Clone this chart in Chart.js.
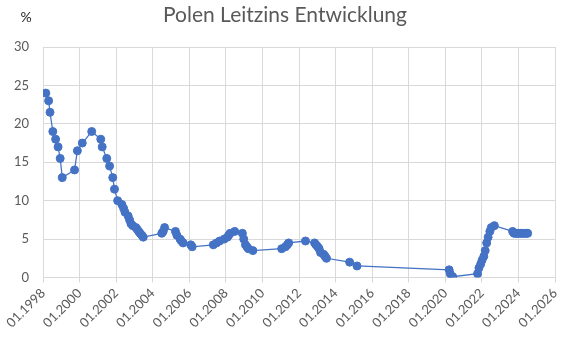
<!DOCTYPE html>
<html>
<head>
<meta charset="utf-8">
<script src="https://cdn.jsdelivr.net/npm/chart.js@4/dist/chart.umd.min.js"></script>
<style>
  html, body { margin: 0; padding: 0; background: #ffffff; }
  canvas { display: block; }
</style>
</head>
<body>
<canvas id="chart" width="568" height="338"></canvas>
<script>
// Chart text
const chartTitle = 'Polen Leitzins Entwicklung';
const unitLabel = '%';

// NBP reference rate: dates of decisions and the rate in percent
const changeDates = [
  '1998-02-26', '1998-04-23', '1998-05-21', '1998-07-16', '1998-09-10', '1998-10-29', '1998-12-10',
  '1999-01-21', '1999-09-23', '1999-11-18',
  '2000-02-24', '2000-08-31',
  '2001-02-28', '2001-03-29', '2001-06-28', '2001-08-23', '2001-10-25', '2001-11-29',
  '2002-01-31', '2002-04-25', '2002-05-30', '2002-06-27', '2002-08-29', '2002-09-26', '2002-10-24', '2002-11-28',
  '2003-01-30', '2003-02-27', '2003-03-27', '2003-04-24', '2003-05-29', '2003-06-26',
  '2004-06-30', '2004-07-29', '2004-08-26',
  '2005-03-31', '2005-04-28', '2005-06-30', '2005-07-28', '2005-08-31',
  '2006-01-31', '2006-02-28',
  '2007-04-26', '2007-06-28', '2007-08-30', '2007-11-29',
  '2008-01-31', '2008-02-28', '2008-03-27', '2008-06-26', '2008-11-27', '2008-12-24',
  '2009-01-28', '2009-02-26', '2009-03-26', '2009-06-25',
  '2011-01-20', '2011-04-06', '2011-05-12', '2011-06-09',
  '2012-05-10', '2012-11-08', '2012-12-06',
  '2013-01-10', '2013-02-07', '2013-03-07', '2013-05-09', '2013-06-06', '2013-07-04',
  '2014-10-09', '2015-03-05',
  '2020-03-18', '2020-04-09', '2020-05-29',
  '2021-10-07', '2021-11-04', '2021-12-09',
  '2022-01-05', '2022-02-09', '2022-03-09', '2022-04-07', '2022-05-06', '2022-06-09', '2022-07-08', '2022-09-08',
  '2023-09-07', '2023-10-05', '2023-11-09', '2023-12-07',
  '2024-01-04', '2024-02-08', '2024-03-07', '2024-04-04', '2024-05-09', '2024-06-05', '2024-07-04'
];
const rates = [
  24.0, 23.0, 21.5, 19.0, 18.0, 17.0, 15.5,
  13.0, 14.0, 16.5,
  17.5, 19.0,
  18.0, 17.0, 15.5, 14.5, 13.0, 11.5,
  10.0, 9.5, 9.0, 8.5, 8.0, 7.5, 7.0, 6.75,
  6.5, 6.25, 6.0, 5.75, 5.5, 5.25,
  5.75, 6.0, 6.5,
  6.0, 5.5, 5.0, 4.75, 4.5,
  4.25, 4.0,
  4.25, 4.5, 4.75, 5.0,
  5.25, 5.5, 5.75, 6.0, 5.75, 5.0,
  4.25, 4.0, 3.75, 3.5,
  3.75, 4.0, 4.25, 4.5,
  4.75, 4.5, 4.25,
  4.0, 3.75, 3.25, 3.0, 2.75, 2.5,
  2.0, 1.5,
  1.0, 0.5, 0.1,
  0.5, 1.25, 1.75,
  2.25, 2.75, 3.5, 4.5, 5.25, 6.0, 6.5, 6.75,
  6.0, 5.75, 5.75, 5.75,
  5.75, 5.75, 5.75, 5.75, 5.75, 5.75, 5.75
];

// Axis ranges and tick steps
const xFirstYear = 1998;
const xLastYear = 2026;
const xYearStep = 2;
const yMin = 0;
const yMax = 30;
const yStep = 5;

// Date string -> fractional year for the linear x axis
function toYearFraction(iso) {
  const [y, m, d] = iso.split('-').map(Number);
  const start = Date.UTC(y, 0, 1);
  const end = Date.UTC(y + 1, 0, 1);
  return y + (Date.UTC(y, m - 1, d) - start) / (end - start);
}

const points = changeDates.map((d, i) => ({ x: toYearFraction(d), y: rates[i] }));

const textColor = '#595959';
const gridColor = '#d9d9d9';
const seriesColor = '#4472c4';
const fontFamily = 'Lato, "Liberation Sans", sans-serif';

// Title and unit label drawn above the plot area
const headerText = {
  id: 'headerText',
  afterDraw(chart) {
    const ctx = chart.ctx;
    ctx.save();
    ctx.textBaseline = 'middle';
    ctx.textAlign = 'center';
    ctx.fillStyle = textColor;
    ctx.font = '21px ' + fontFamily;
    ctx.fillText(chartTitle, chart.width / 2 + 1, 15);
    ctx.fillStyle = '#262626';
    ctx.font = '14px ' + fontFamily;
    ctx.fillText(unitLabel, 26, 17);
    ctx.restore();
  }
};

new Chart(document.getElementById('chart'), {
  type: 'line',
  data: {
    datasets: [{
      data: points,
      borderColor: seriesColor,
      backgroundColor: seriesColor,
      borderWidth: 1.25,
      pointRadius: 4,
      pointBorderWidth: 1,
      pointBorderColor: seriesColor,
      pointBackgroundColor: seriesColor,
      tension: 0,
      fill: false
    }]
  },
  options: {
    responsive: false,
    animation: false,
    layout: { padding: { top: 47, right: 13, left: 0, bottom: 0 } },
    plugins: {
      legend: { display: false },
      title: { display: false },
      tooltip: { enabled: false }
    },
    scales: {
      x: {
        type: 'linear',
        min: xFirstYear,
        max: xLastYear,
        grid: { color: gridColor, drawTicks: true, tickLength: 5, tickColor: gridColor },
        border: { display: false },
        ticks: {
          stepSize: xYearStep,
          autoSkip: false,
          minRotation: 45,
          maxRotation: 45,
          padding: 3,
          color: textColor,
          font: { family: fontFamily, size: 13 },
          callback: v => '01.' + v
        },
        afterFit(scale) {
          scale.height = 60.5;
          scale.paddingLeft = 0;
          scale.paddingRight = 0;
        }
      },
      y: {
        min: yMin,
        max: yMax,
        grid: { color: gridColor, drawTicks: false },
        border: { display: false },
        ticks: {
          stepSize: yStep,
          padding: 14,
          color: textColor,
          font: { family: fontFamily, size: 13 }
        },
        afterFit(scale) {
          scale.width = 43;
        }
      }
    }
  },
  plugins: [headerText]
});
</script>
</body>
</html>
